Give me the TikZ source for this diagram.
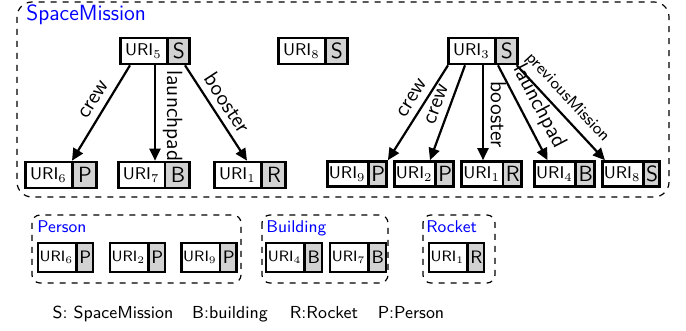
\documentclass[tikz,border=0pt]{standalone}
\usepackage{amsmath}
\usepackage{fontspec}
\usepackage{tikz}
\usetikzlibrary{shapes.multipart,arrows.meta}

\begin{document}
\begin{tikzpicture}[x=0.5pt, y=-0.5pt,
                    ent/.style = {
                        draw=black, line width=1.3pt, rectangle split, rectangle split horizontal,
                        rectangle split parts=2, rectangle split part fill={white,gray!35},
                        inner xsep=2.2pt, inner ysep=1pt, minimum height=13pt,
                        font=\sffamily\fontsize{8.5}{10}\selectfont
                    },
                    tightent/.style = {ent, inner xsep=0.8pt, minimum height=12.5pt},
                    lowent/.style = {ent, inner xsep=0.9pt, minimum height=14.5pt,
                        font=\sffamily\fontsize{7.5}{9}\selectfont},
                    link/.style = {line width=1.1pt, -{Triangle[length=6pt,width=5.5pt]}},
                    lab/.style = {above, sloped, font=\sffamily\fontsize{11}{13}\selectfont},
                    group/.style = {draw=black, line width=0.6pt, dashed, rounded corners=4pt},
                    grplabel/.style = {text=blue, inner sep=0pt, anchor=base west,
                        font=\sffamily\fontsize{8.5}{10}\selectfont},
                    legend/.style = {inner sep=0pt, anchor=base, font=\sffamily\fontsize{8.7}{10}\selectfont}
                ]
                    % font of the class letter
                    \def\cls{\fontsize{11}{13}\selectfont}
                    \def\lcls{\fontsize{9}{11}\selectfont}

                    \useasboundingbox (0,0) rectangle (686,331);

                    % SpaceMission graph
                    \draw[group, rounded corners=7.5pt] (17,2) rectangle (669,197);
                    \node[grplabel, font=\sffamily\fontsize{11}{13}\selectfont] (smlab) at (26,21) {SpaceMission};

                    % Nodes
                    \node[ent] (s5) at (155,51) {URI$_5$\nodepart{two}\cls S};
                    \node[ent] (s8) at (313,51) {URI$_8$\nodepart{two}\cls S};
                    \node[ent] (s3) at (483,51) {URI$_3$\nodepart{two}\cls S};

                    \node[ent] (u6) at (61,175) {URI$_6$\nodepart{two}\cls P};
                    \node[ent] (u7) at (154,175) {URI$_7$\nodepart{two}\cls B};
                    \node[ent] (u1) at (250,175) {URI$_1$\nodepart{two}\cls R};

                    \node[tightent] (p9) at (357,174) {URI$_9$\nodepart{two}\cls P};
                    \node[tightent] (p2) at (424,174) {URI$_2$\nodepart{two}\cls P};
                    \node[tightent] (r1b) at (491.5,174) {URI$_1$\nodepart{two}\cls R};
                    \node[tightent] (b4) at (564.5,174) {URI$_4$\nodepart{two}\cls B};
                    \node[tightent] (s8b) at (631,174) {URI$_8$\nodepart{two}\cls S};

                    % s5 edges
                    \draw[link] ([shift={(-25,0)}]s5.south) -- node[lab, pos=0.43] {crew} ([shift={(11,0)}]u6.north);
                    \draw[link] (s5.south) -- node[lab, pos=0.53] {launchpad} (s5.south |- u7.north);
                    \draw[link] ([shift={(30,0)}]s5.south) -- node[lab, pos=0.48] {booster} ([shift={(-3,0)}]u1.north);

                    % s3 edges
                    \draw[link] ([shift={(-35,0)}]s3.south) -- node[lab, pos=0.42] {crew} (p9.north east);
                    \draw[link] ([shift={(-18,0)}]s3.south) -- node[lab, pos=0.46] {crew} ([shift={(6,0)}]p2.north);
                    \draw[link] (s3.south) -- node[lab, pos=0.52] {booster} (s3.south |- r1b.north);
                    \draw[link] ([shift={(15,0)}]s3.south) -- node[lab, pos=0.52] {launchpad} ([shift={(-17,0)}]b4.north);
                    \draw[link] ([shift={(-2,0)}]s3.south east) -- node[lab, pos=0.45, font=\sffamily\fontsize{8.3}{10}\selectfont] {previousMission} ([shift={(4,0)}]s8b.north west);

                    % class groups
                    \draw[group] (32,215) rectangle (241,283);
                    \draw[group] (262,215) rectangle (388,283);
                    \draw[group] (423,215) rectangle (495,283);
                    \node[grplabel] (perlab) at (37,233) {Person};
                    \node[grplabel] (bldlab) at (266,233) {Building};
                    \node[grplabel] (rktlab) at (426,233) {Rocket};

                    \node[lowent] (pp6) at (65.5,257.5) {URI$_6$\nodepart{two}\lcls P};
                    \node[lowent] (pp2) at (137.5,257.5) {URI$_2$\nodepart{two}\lcls P};
                    \node[lowent] (pp9) at (209,257.5) {URI$_9$\nodepart{two}\lcls P};
                    \node[lowent] (bb4) at (294,257.5) {URI$_4$\nodepart{two}\lcls B};
                    \node[lowent] (bb7) at (358,257.5) {URI$_7$\nodepart{two}\lcls B};
                    \node[lowent] (rr1) at (456.5,257.5) {URI$_1$\nodepart{two}\lcls R};

                    % legend
                    \node[legend] (legS) at (113,319) {S: SpaceMission};
                    \node[legend] (legB) at (230,319) {B:building};
                    \node[legend] (legR) at (324,319) {R:Rocket};
                    \node[legend] (legP) at (411,319) {P:Person};
                \end{tikzpicture}
\end{document}
